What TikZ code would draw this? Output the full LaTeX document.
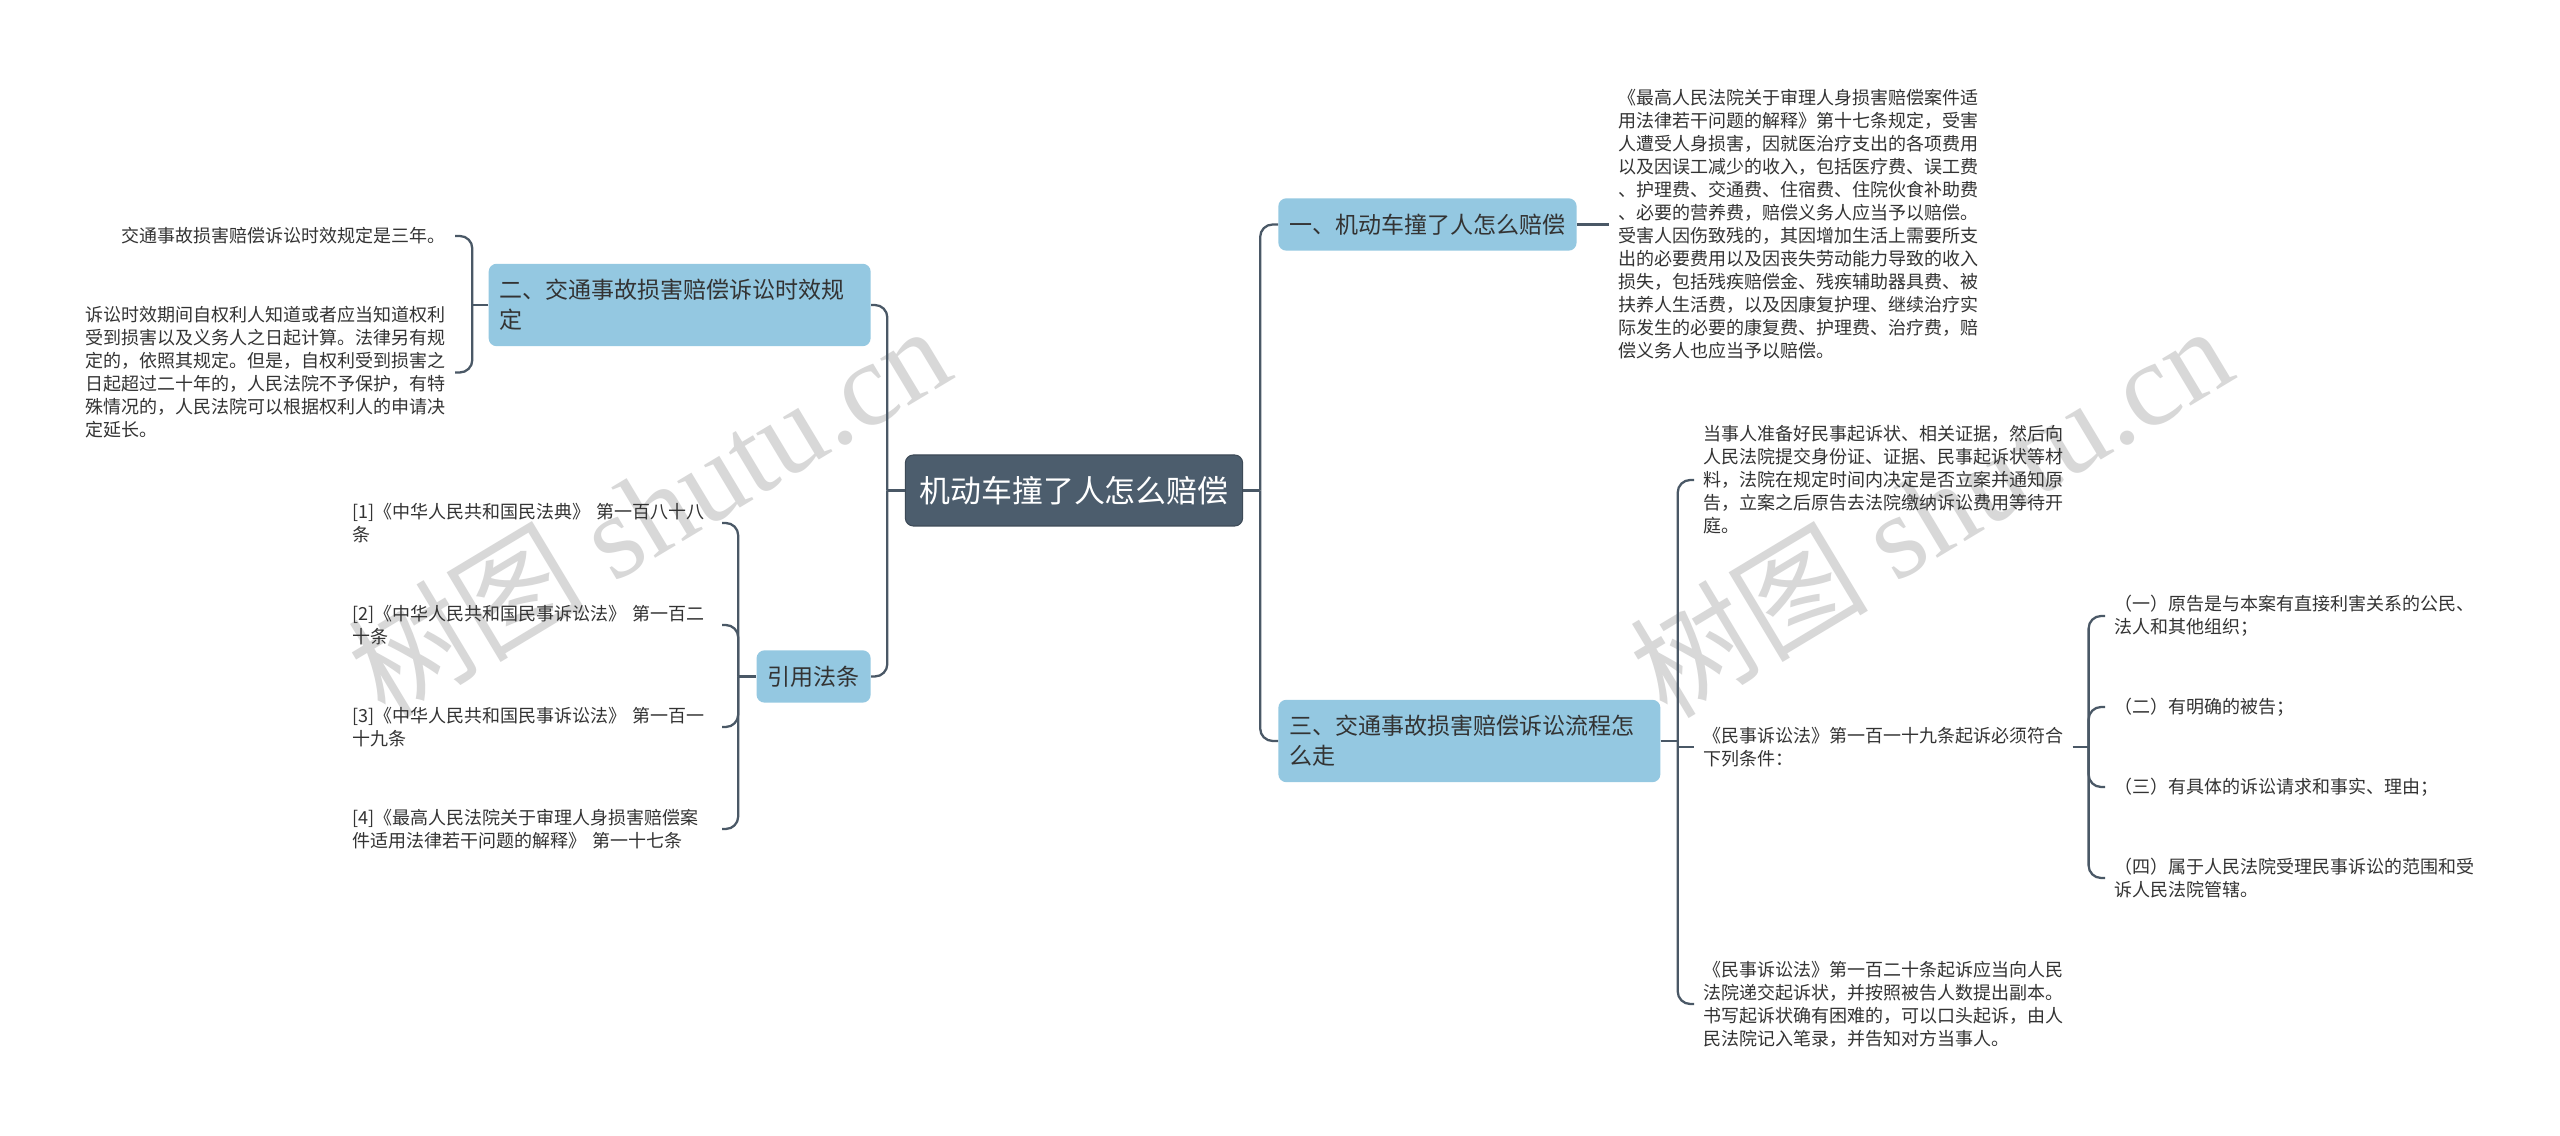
\documentclass[tikz,border=0pt]{standalone}
\usepackage{fontspec}
\setmainfont{Noto Sans CJK SC}
\newfontfamily\latinserif{Liberation Serif}
\usetikzlibrary{positioning}
\definecolor{rootfill}{HTML}{4C5D6D}
\definecolor{topicfill}{HTML}{94C8E1}
\definecolor{linkcol}{HTML}{4A5866}
\definecolor{textcol}{HTML}{333333}
\definecolor{markcol}{HTML}{D8D8D8}
\tikzset{
  rootbox/.style={rectangle, rounded corners=0.16cm, fill=rootfill, draw=rootfill!80!black, line width=0.6pt, text=white, font={\fontsize{17.6pt}{22pt}\selectfont}, inner xsep=0.28cm, minimum height=1.42cm},
  topicbox/.style={rectangle, rounded corners=0.16cm, fill=topicfill, text=textcol, font={\fontsize{13.1pt}{17.07pt}\selectfont}, inner xsep=0.22cm, inner ysep=0.31cm, align=left},
  leaftext/.style={text=textcol, font={\fontsize{10.24pt}{13.09pt}\selectfont}, inner xsep=0.18cm, inner ysep=0.05cm, align=left},
  branchline/.style={draw=linkcol, line width=1.3pt, rounded corners=0.25cm},
  wmark/.style={text=markcol, rotate=31, font={\fontsize{68pt}{68pt}\selectfont}, inner sep=0}
}
\begin{document}
\begin{tikzpicture}
\useasboundingbox[fill=white] (0,0) rectangle (51.2,22.72);
\node[wmark] (wm1) at (12.96,12.52) {树图 {\latinserif shutu.cn}};
\node[wmark] (wm2) at (38.6,12.52) {树图 {\latinserif shutu.cn}};

\node[rootbox] (root) at (21.48,12.91) {机动车撞了人怎么赔偿};
\node[topicbox, anchor=west] (t1) at (25.56,18.23) {一、机动车撞了人怎么赔偿};
\node[topicbox, anchor=west, text width=7.2cm] (t3) at (25.56,7.90) {三、交通事故损害赔偿诉讼流程怎\\么走};
\node[topicbox, anchor=east, text width=7.2cm] (t2) at (17.42,16.62) {二、交通事故损害赔偿诉讼时效规\\定};
\node[topicbox, anchor=east] (cite) at (17.42,9.19) {引用法条};

\node[leaftext, right=0.64cm of t1] (t1a) {《最高人民法院关于审理人身损害赔偿案件适\\用法律若干问题的解释》第十七条规定，受害\\人遭受人身损害，因就医治疗支出的各项费用\\以及因误工减少的收入，包括医疗费、误工费\\、护理费、交通费、住宿费、住院伙食补助费\\、必要的营养费，赔偿义务人应当予以赔偿。\\受害人因伤致残的，其因增加生活上需要所支\\出的必要费用以及因丧失劳动能力导致的收入\\损失，包括残疾赔偿金、残疾辅助器具费、被\\扶养人生活费，以及因康复护理、继续治疗实\\际发生的必要的康复费、护理费、治疗费，赔\\偿义务人也应当予以赔偿。};

\node[leaftext, anchor=east] (l1) at (9.10,18.0) {交通事故损害赔偿诉讼时效规定是三年。};
\node[leaftext, anchor=east] (l2) at (9.10,15.27) {诉讼时效期间自权利人知道或者应当知道权利\\受到损害以及义务人之日起计算。法律另有规\\定的，依照其规定。但是，自权利受到损害之\\日起超过二十年的，人民法院不予保护，有特\\殊情况的，人民法院可以根据权利人的申请决\\定延长。};

\node[leaftext, anchor=east, text width=7.2cm] (r1) at (14.44,12.26) {[1]《中华人民共和国民法典》 第一百八十八\\条};
\node[leaftext, anchor=east, text width=7.2cm] (r2) at (14.44,10.22) {[2]《中华人民共和国民事诉讼法》 第一百二\\十条};
\node[leaftext, anchor=east, text width=7.2cm] (r3) at (14.44,8.18) {[3]《中华人民共和国民事诉讼法》 第一百一\\十九条};
\node[leaftext, anchor=east, text width=7.2cm] (r4) at (14.44,6.14) {[4]《最高人民法院关于审理人身损害赔偿案\\件适用法律若干问题的解释》 第一十七条};

\node[leaftext, anchor=west] (c1) at (33.88,13.12) {当事人准备好民事起诉状、相关证据，然后向\\人民法院提交身份证、证据、民事起诉状等材\\料，法院在规定时间内决定是否立案并通知原\\告，立案之后原告去法院缴纳诉讼费用等待开\\庭。};
\node[leaftext, anchor=west] (c2) at (33.88,7.78) {《民事诉讼法》第一百一十九条起诉必须符合\\下列条件：};
\node[leaftext, anchor=west] (c3) at (33.88,2.64) {《民事诉讼法》第一百二十条起诉应当向人民\\法院递交起诉状，并按照被告人数提出副本。\\书写起诉状确有困难的，可以口头起诉，由人\\民法院记入笔录，并告知对方当事人。};

\node[leaftext, anchor=west] (s1) at (42.10,10.40) {（一）原告是与本案有直接利害关系的公民、\\法人和其他组织；};
\node[leaftext, anchor=west] (s2) at (42.10,8.58) {（二）有明确的被告；};
\node[leaftext, anchor=west] (s3) at (42.10,6.98) {（三）有具体的诉讼请求和事实、理由；};
\node[leaftext, anchor=west] (s4) at (42.10,5.16) {（四）属于人民法院受理民事诉讼的范围和受\\诉人民法院管辖。};

\coordinate[right=0.34cm of root.east] (rbus);
\coordinate[left=0.35cm of root.west] (lbus);
\coordinate[right=0.34cm of t3.east] (t3bus);
\coordinate[left=0.32cm of t2.west] (t2bus);
\coordinate[left=0.36cm of cite.west] (citebus);
\coordinate[right=0.32cm of c2.east] (c2bus);

\draw[branchline] (root.east) -- (rbus);
\foreach \n in {t1,t3} \draw[branchline] (rbus) |- (\n.west);
\draw[branchline] (root.west) -- (lbus);
\foreach \n in {t2,cite} \draw[branchline] (lbus) |- (\n.east);
\draw[branchline] (t1.east) -- (t1a.west);
\draw[branchline] (t3.east) -- (t3bus);
\foreach \n in {c1,c3} \draw[branchline] (t3bus) |- (\n.west);
\draw[branchline] (t3bus |- c2.west) -- (c2.west);
\draw[branchline] (t2.west) -- (t2bus);
\foreach \n in {l1,l2} \draw[branchline] (t2bus) |- (\n.east);
\draw[branchline] (cite.west) -- (citebus);
\foreach \n in {r1,r2,r3,r4} \draw[branchline] (citebus) |- (\n.east);
\draw[branchline] (c2.east) -- (c2bus);
\foreach \n in {s1,s2,s3,s4} \draw[branchline] (c2bus) |- (\n.west);
\end{tikzpicture}
\end{document}
